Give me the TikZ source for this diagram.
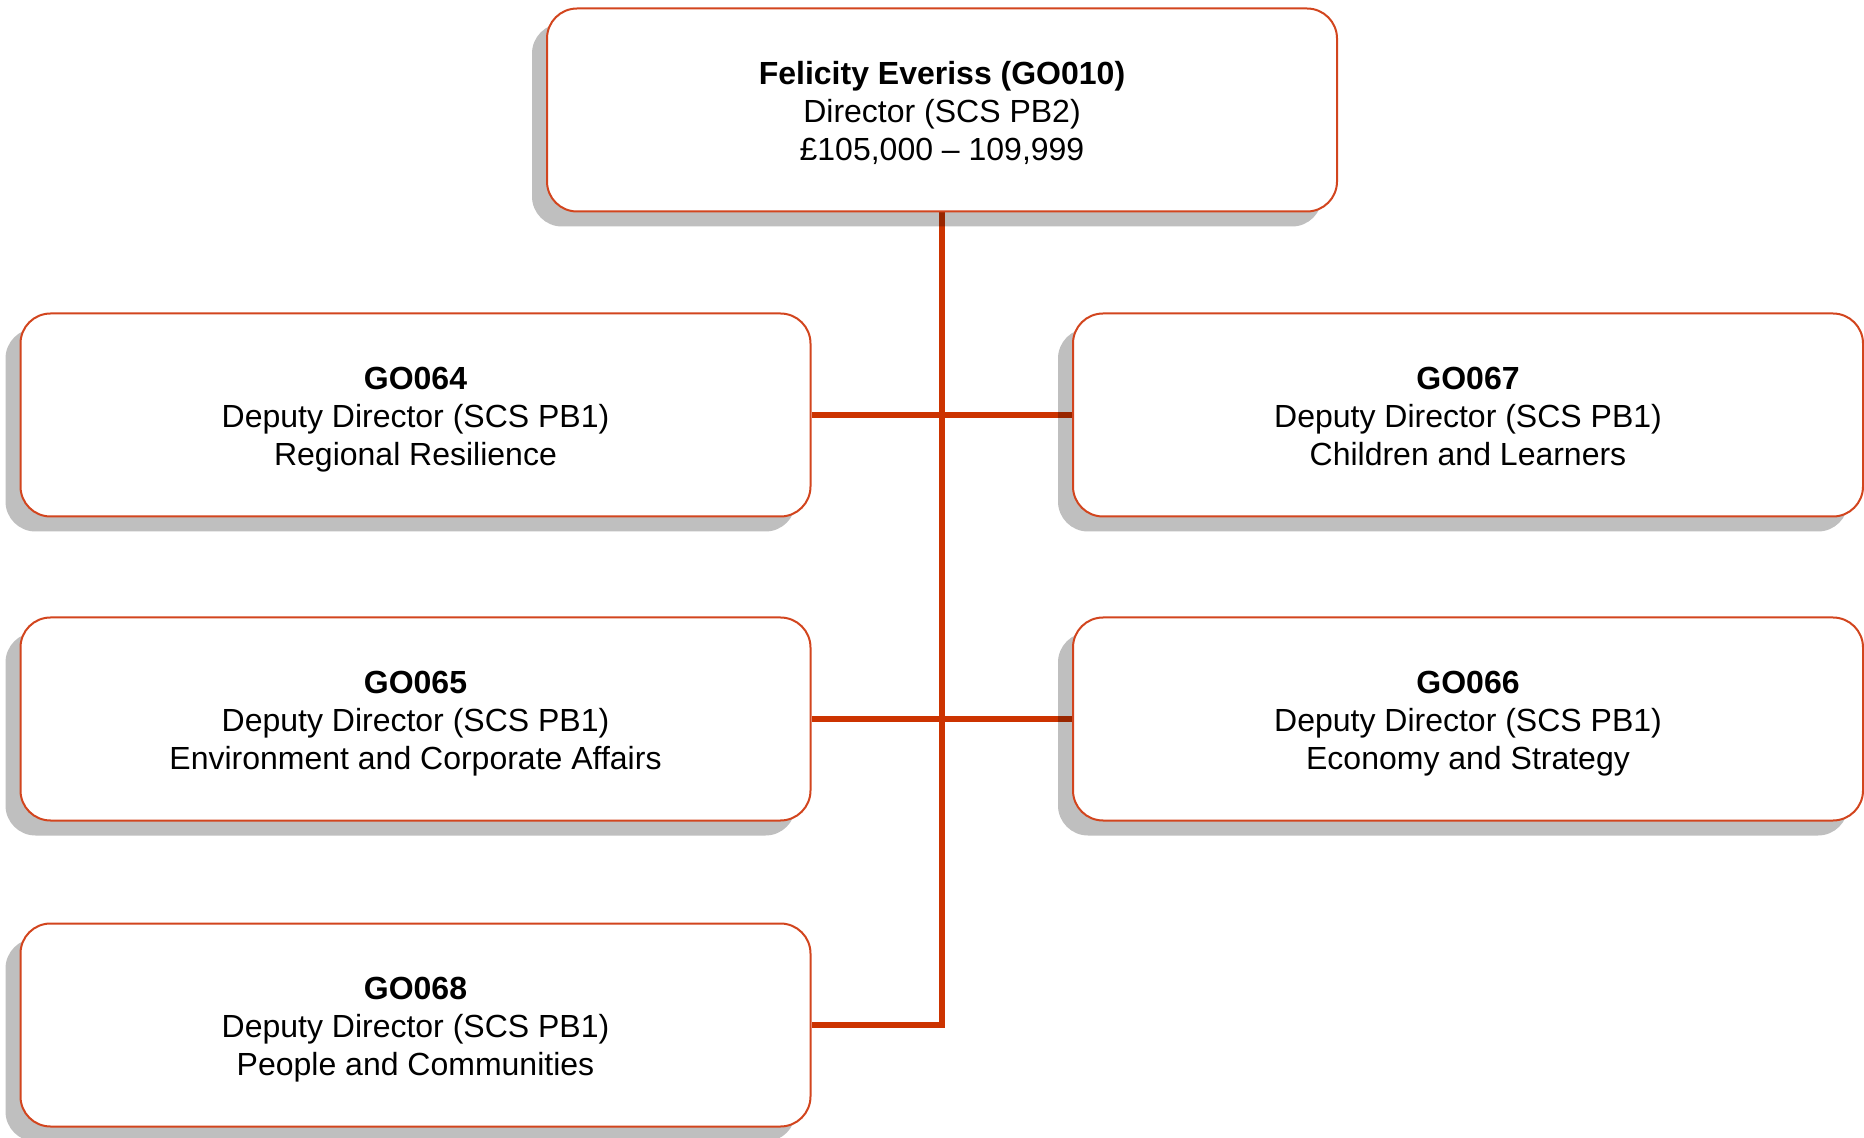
\documentclass[tikz,border=0pt]{standalone}
\usepackage{fontspec}
\setmainfont{Liberation Sans}
\usetikzlibrary{shadows,backgrounds}
\definecolor{linered}{HTML}{CC3300}
\definecolor{boxred}{HTML}{D2451E}
\tikzset{
  post/.style={draw=boxred, line width=1pt, fill=white, rounded corners=15pt,
    minimum width=395pt, minimum height=101.5pt, inner sep=0pt,
    drop shadow={shadow xshift=-7.5pt, shadow yshift=-7.5pt, fill=black, opacity=0.25}},
  posttext/.style={align=center, inner sep=0pt, yshift=-2.6pt,
    font=\fontsize{16}{19}\selectfont},
  conn/.style={draw=linered, line width=3pt}
}
\begin{document}
\begin{tikzpicture}[x=0.5pt,y=-0.5pt]
\useasboundingbox (0,0) rectangle (1864,1138);
\node[post, label={[posttext]center:{\strut\textbf{Felicity Everiss (GO010)}\\\strut Director (SCS PB2)\\\strut £105,000 – 109,999}}] (top) at (942,110) {};
\node[post, label={[posttext]center:{\strut\textbf{GO064}\\\strut Deputy Director (SCS PB1)\\\strut Regional Resilience}}] (g064) at (415.5,415) {};
\node[post, label={[posttext]center:{\strut\textbf{GO065}\\\strut Deputy Director (SCS PB1)\\\strut Environment and Corporate Affairs}}] (g065) at (415.5,719) {};
\node[post, label={[posttext]center:{\strut\textbf{GO068}\\\strut Deputy Director (SCS PB1)\\\strut People and Communities}}] (g068) at (415.5,1025) {};
\node[post, label={[posttext]center:{\strut\textbf{GO067}\\\strut Deputy Director (SCS PB1)\\\strut Children and Learners}}] (g067) at (1468,415) {};
\node[post, label={[posttext]center:{\strut\textbf{GO066}\\\strut Deputy Director (SCS PB1)\\\strut Economy and Strategy}}] (g066) at (1468,719) {};
\begin{pgfonlayer}{background}
\draw[conn] (top.south) |- (g068.east);
\draw[conn] (g064.east) -- (g067.west);
\draw[conn] (g065.east) -- (g066.west);
\end{pgfonlayer}
\end{tikzpicture}
\end{document}
